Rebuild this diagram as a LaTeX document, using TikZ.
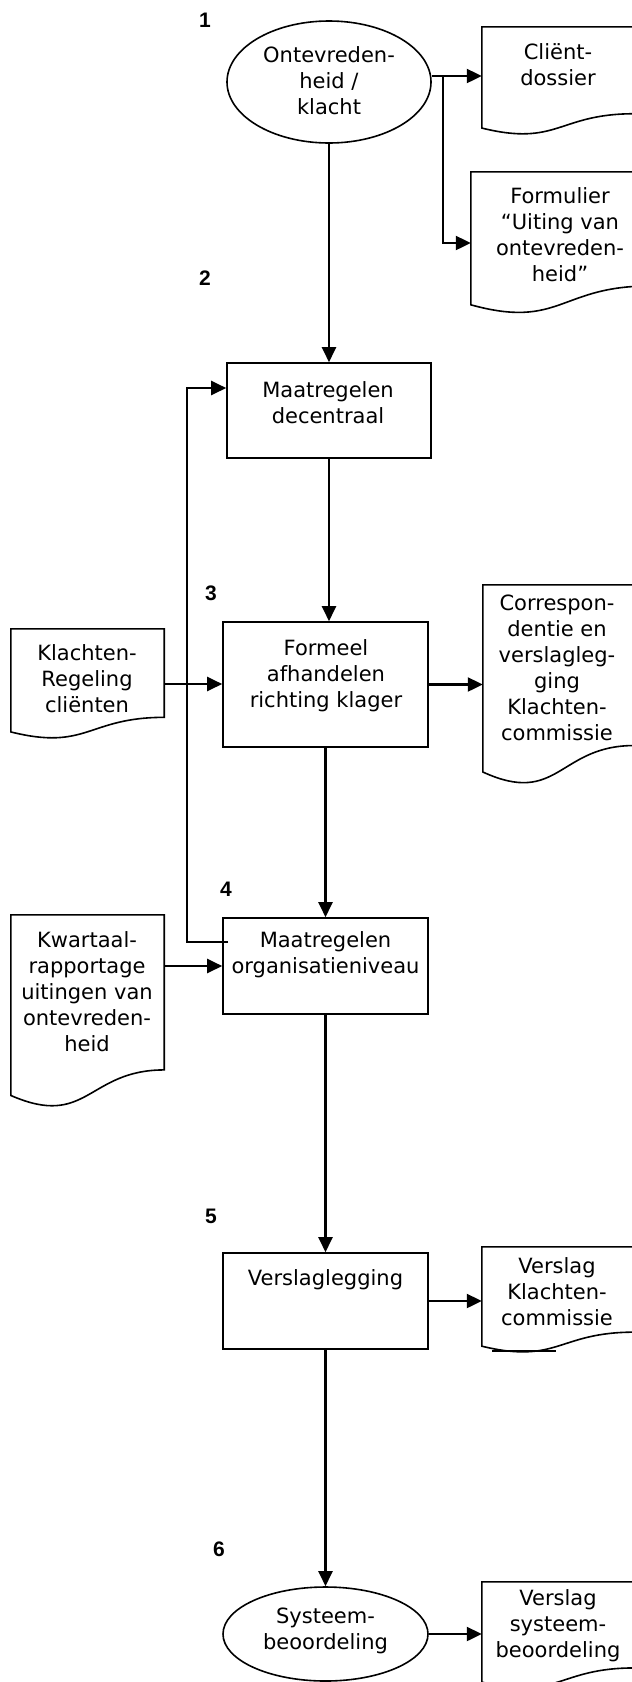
\documentclass[tikz,border=0pt]{standalone}
\usepackage{fontspec}
\setmainfont{DejaVu Sans}
\newfontfamily\numfont{Liberation Sans}
\usetikzlibrary{arrows.meta,calc,shapes.geometric}
\newcommand\drawdoc[1]{\draw[shapeline] (#1.north west) -- (#1.north east) -- ($(#1.north east)!0.802!(#1.south east)$) .. controls ($(#1.north)!0.802!(#1.south)$) and ($(#1.north)!1.1075!(#1.south)$) .. ($(#1.north west)!0.934!(#1.south west)$) -- cycle;}
\begin{document}
\begin{tikzpicture}[x=1pt,y=-1pt,
  shapeline/.style={draw=black, line width=1.6pt},
  box/.style={shapeline, rectangle, inner sep=0pt},
  oval/.style={shapeline, ellipse, inner sep=0pt},
  docarea/.style={rectangle, inner sep=0pt, draw=none},
  txt/.style={font=\fontsize{21}{26}\selectfont, align=center, inner sep=0pt},
  num/.style={font=\numfont\bfseries\fontsize{21}{24}\selectfont, inner sep=0pt},
  conn/.style={draw=black, line width=2.2pt},
  arr/.style={conn, -{Triangle[length=15pt,width=14pt]}},
]
\useasboundingbox (0,0) rectangle (632,1682);
\clip (0,0) rectangle (632,1682);

% step numbers
\node[num] (n1) at (205,20) {1};
\node[num] (n2) at (205,278) {2};
\node[num] (n3) at (211,593) {3};
\node[num] (n4) at (226,889) {4};
\node[num] (n5) at (211,1216) {5};
\node[num] (n6) at (219,1549) {6};

% main shapes
\node[oval, minimum width=204pt, minimum height=122pt] (e1) at (329,82) {};
\node[box, minimum width=204pt, minimum height=95pt] (b2) at (329,410.5) {};
\node[box, minimum width=205pt, minimum height=125pt] (b3) at (325.5,684.5) {};
\node[box, minimum width=205pt, minimum height=96pt] (b4) at (325.5,966) {};
\node[box, minimum width=205pt, minimum height=96pt] (b5) at (325.5,1301) {};
\node[oval, minimum width=205pt, minimum height=94pt] (e6) at (325.5,1634) {};

% documents
\node[docarea, minimum width=152pt, minimum height=108pt] (d1) at (558,81) {};
\node[docarea, minimum width=178pt, minimum height=142pt] (d2) at (560,243) {};
\node[docarea, minimum width=153pt, minimum height=110pt] (d3) at (87.5,684) {};
\node[docarea, minimum width=151pt, minimum height=200pt] (d4) at (558.5,685) {};
\node[docarea, minimum width=153pt, minimum height=193pt] (d5) at (87.5,1011.5) {};
\node[docarea, minimum width=152pt, minimum height=106pt] (d6) at (558,1300) {};
\node[docarea, minimum width=152pt, minimum height=107pt] (d7) at (558,1635.5) {};
\drawdoc{d1}
\drawdoc{d2}
\drawdoc{d3}
\drawdoc{d4}
\drawdoc{d5}
\drawdoc{d6}
\drawdoc{d7}
\draw[line width=2.5pt] (492,1351) -- (556,1351);

% texts
\node[txt] (e1t) at (329,80.3) {Ontevreden-\\heid /\\klacht};
\node[txt] (b2t) at (328,403) {Maatregelen\\decentraal};
\node[txt] (b3t) at (326,675.5) {Formeel\\afhandelen\\richting klager};
\node[txt] (b4t) at (325.5,955) {Maatregelen\\organisatieniveau};
\node[txt] (b5t) at (325.5,1280) {Verslaglegging};
\node[txt] (e6t) at (325.5,1630.5) {Systeem-\\beoordeling};
\node[txt] (d1t) at (558,65) {Cliënt-\\dossier};
\node[txt] (d2t) at (560,235) {Formulier\\“Uiting van\\ontevreden-\\heid”};
\node[txt] (d3t) at (87,679) {Klachten-\\Regeling\\cliënten};
\node[txt] (d4t) at (557,668) {Correspon-\\dentie en\\verslagleg-\\ging\\Klachten-\\commissie};
\node[txt] (d5t) at (87,992) {Kwartaal-\\rapportage\\uitingen van\\ontevreden-\\heid};
\node[txt] (d6t) at (557,1292) {Verslag\\Klachten-\\commissie};
\node[txt] (d7t) at (558,1626) {Verslag\\systeem-\\beoordeling};

% connectors
\coordinate (br) at (443,76);
\coordinate (fbA) at (228,942);
\coordinate (fbB) at (187,942);
\draw[arr] (e1.south) -- (b2.north);
\draw[arr] ([yshift=6pt]e1.east) -- ([yshift=6pt]e1.east -| d1.west);
\draw[arr] (br) |- (d2.west);
\draw[arr] (b2.south) -- (b2.south |- b3.north);
\draw[arr] (d3.east) -- (d3.east -| b3.west);
\draw[arr] (b3.east) -- (b3.east -| d4.west);
\draw[arr] (b3.south) -- (b4.north);
\draw[arr] (b4.west -| d5.east) -- (b4.west);
\draw[arr] (fbA) -- (fbB) |- ([yshift=22.5pt]b2.west);
\draw[arr] (b4.south) -- (b5.north);
\draw[arr] (b5.east) -- (b5.east -| d6.west);
\draw[arr] (b5.south) -- (e6.north);
\draw[arr] (e6.east) -- (e6.east -| d7.west);
\end{tikzpicture}
\end{document}
